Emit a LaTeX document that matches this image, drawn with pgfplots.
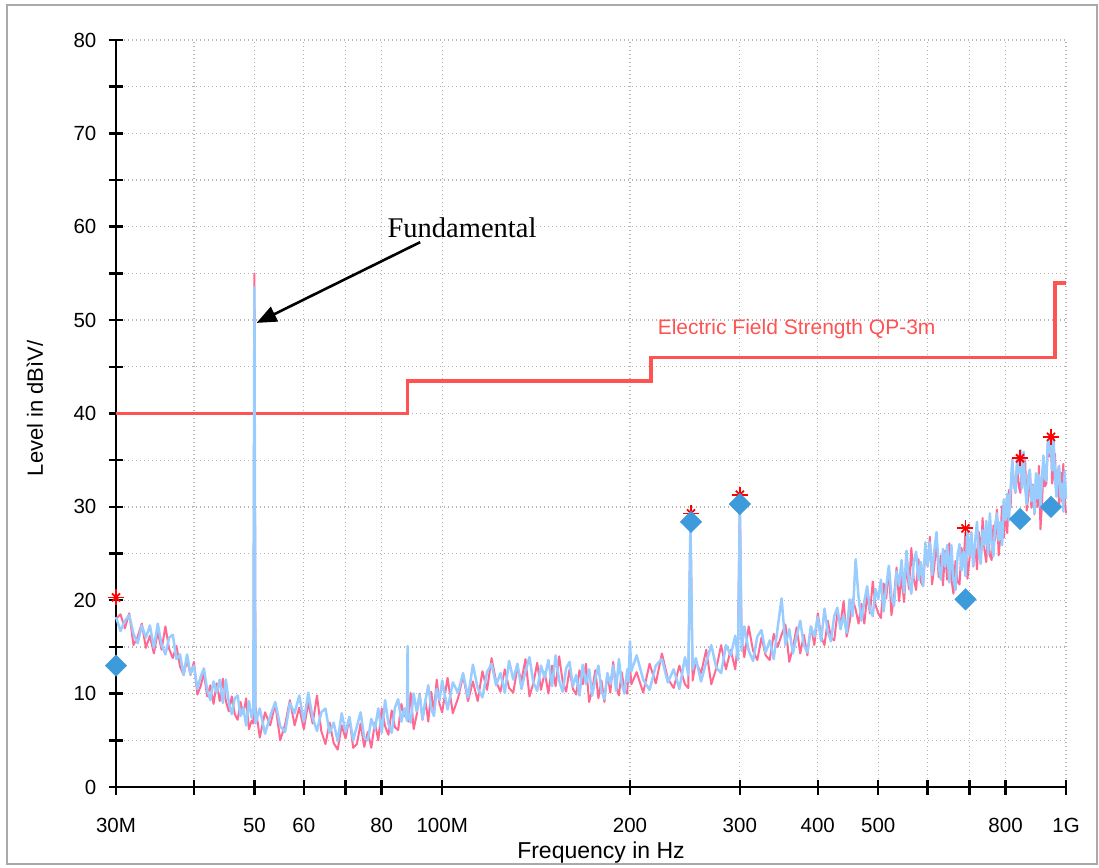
\documentclass[border=0pt]{standalone}
\usepackage{pgfplots}
\pgfplotsset{compat=1.18}
\usepackage{pgfplotstable}
\usepackage{fontspec}
\setmainfont{Liberation Sans}
\newfontfamily\seriffont{Liberation Serif}
\usetikzlibrary{arrows.meta}

\definecolor{limitred}{RGB}{255,82,82}
\definecolor{tracepink}{RGB}{255,105,145}
\definecolor{traceblue}{RGB}{153,204,255}
\definecolor{diamondblue}{RGB}{61,154,219}
\definecolor{gridgray}{RGB}{180,180,180}
\definecolor{framegray}{RGB}{170,170,170}

% scan: frequency in MHz, blue trace, pink trace (dB)
\pgfplotstableread{
f blue pink
30 18.2 18.0
30.5 16.7 18.5
31 17.8 17.0
31.5 18.4 18.6
32 16.4 15.2
32.5 15.4 16.1
33 17.3 17.5
33.5 16.0 14.9
34 17.3 16.2
34.5 14.9 14.3
35 17.5 16.6
35.5 15.2 14.7
36 14.2 17.2
36.5 16.0 14.8
37 16.3 13.8
37.5 13.7 15.1
38 14.2 12.9
38.5 12.0 12.0
39 14.2 13.6
39.5 12.1 12.0
40 13.0 13.4
40.5 10.5 9.9
41 11.8 10.8
41.5 12.7 12.2
42 10.4 9.7
42.5 9.3 10.9
43 11.3 8.9
43.5 10.1 11.1
44 11.5 9.2
44.5 9.0 11.6
45 11.5 9.2
45.5 9.0 8.1
46 7.8 9.7
46.5 9.5 7.8
47 9.8 7.2
47.5 7.6 9.1
48 8.5 7.8
48.5 6.6 9.5
49 9.2 6.2
49.5 7.4 7.1
49.8 8.4 6.8
50 53.5 55.0
50.2 6.8 8.6
51 8.4 5.3
52 5.7 8.0
53 7.6 6.6
54 9.1 8.9
55 6.5 5.0
56 5.9 6.7
57 9.0 9.3
58 7.9 6.6
59 9.8 8.5
60 7.0 6.2
61 10.1 9.0
62 7.4 6.8
63 6.0 9.8
64 8.0 6.0
65 8.4 4.6
66 5.8 6.9
67 6.9 4.7
68 4.9 4.0
69 7.9 6.6
70 5.9 5.2
71 7.5 7.4
72 5.0 4.2
73 6.5 4.6
74 8.0 6.8
75 5.3 4.3
76 5.0 5.9
77 7.3 4.2
78 6.2 6.9
79 8.4 5.0
80 5.8 8.4
81 9.3 6.5
82 6.8 5.6
83 5.8 8.2
84 8.5 6.4
85 9.4 6.1
86 7.0 8.9
87 8.4 7.6
87.8 7.1 8.6
88 15.1 9.3
88.2 8.0 7.0
89 6.9 10.1
90 10.0 6.2
91 8.1 7.7
92 9.9 10.0
93 7.3 7.2
94 9.3 9.2
95 10.9 7.0
96 8.4 10.2
97 7.6 8.1
98 10.5 11.5
99 9.3 8.9
100 11.4 8.0
102 8.3 11.7
104 11.2 7.9
106 10.1 9.5
108 12.2 11.9
110 9.6 9.2
112 13.1 11.3
114 10.6 9.2
116 9.6 12.4
118 12.3 10.4
120 13.2 13.8
122 10.9 11.3
124 12.2 10.2
126 10.1 12.6
128 13.5 10.6
130 11.5 10.1
132 13.2 12.8
134 10.5 11.4
136 12.4 13.7
138 13.9 9.7
140 11.2 11.1
142 10.3 13.3
144 13.0 10.4
146 11.7 12.3
148 13.6 10.0
150 10.8 13.0
152 14.1 10.8
154 11.4 14.0
156 10.2 11.3
158 12.7 10.2
160 13.4 12.6
162 10.8 10.5
164 12.0 9.9
166 9.8 12.5
168 13.1 11.0
170 11.0 13.2
172 12.6 9.1
174 9.8 10.4
176 11.6 12.5
178 13.0 9.5
180 10.3 11.4
182 9.4 9.1
184 12.2 12.2
186 11.0 10.1
188 13.0 13.4
190 10.3 10.8
192 13.7 9.8
194 11.1 12.3
196 10.0 10.4
198 12.6 10.0
199 11.3 12.7
200 15.6 13.0
201 12.4 11.0
205 14.1 12.3
210 11.5 10.1
215 10.4 13.2
220 13.0 11.1
225 13.7 14.3
230 11.2 11.6
235 12.6 10.6
240 10.5 13.0
245 13.9 11.0
248 12.0 10.6
250 28.3 29.0
252 12.6 11.4
255 13.8 13.4
260 11.3 12.2
265 13.4 14.7
270 15.2 11.0
275 12.8 12.7
280 12.2 15.2
285 15.2 12.6
290 14.1 14.7
295 16.2 12.6
298 13.6 15.8
300 30.2 31.0
302 14.6 15.9
305 17.2 13.9
310 14.6 17.2
315 13.5 14.6
320 16.1 13.6
325 16.8 16.0
330 14.4 14.1
335 15.7 13.6
340 13.7 16.4
345 17.1 15.0
350 20.2 16.3
355 15.2 17.4
360 16.9 13.4
365 14.3 14.9
370 16.2 17.1
375 17.8 14.3
380 15.2 16.3
385 14.4 14.1
390 17.2 17.2
395 16.1 15.2
400 18.2 18.6
405 15.6 16.1
410 19.1 15.2
415 16.6 17.8
420 15.6 16.0
425 18.3 15.7
430 19.2 18.6
435 16.9 17.4
440 18.4 19.9
445 16.5 16.1
450 20.1 17.7
455 18.3 20.1
460 24.4 19.0
465 20.3 17.5
470 17.8 19.6
475 19.9 17.5
480 21.5 20.6
485 19.0 18.6
490 18.3 22.0
495 21.2 19.5
500 20.1 18.6
505 22.2 18.1
510 18.8 21.8
515 21.5 20.2
520 23.7 23.4
525 20.4 18.4
530 19.4 20.4
535 23.1 23.5
540 21.6 19.9
545 24.3 22.6
550 20.8 19.8
555 25.3 23.9
560 22.0 21.2
565 20.7 25.6
570 24.1 22.3
575 25.2 21.1
580 22.2 24.4
585 24.1 22.0
590 21.5 21.5
595 26.2 25.2
600 23.7 23.6
605 26.2 26.8
610 22.7 21.7
615 25.3 23.6
620 27.3 26.5
625 23.6 22.5
630 22.2 24.8
635 25.5 21.6
640 23.6 25.3
645 25.9 22.2
650 21.9 26.1
655 25.9 22.3
660 22.2 20.7
665 21.1 24.2
670 24.7 22.0
675 26.0 21.7
680 23.2 25.6
685 25.2 24.1
690 22.6 27.3
695 27.3 22.3
700 24.8 24.3
705 27.2 27.3
710 23.7 23.6
715 26.3 26.2
720 28.4 23.3
725 25.0 27.3
730 23.9 24.5
735 27.5 28.8
740 25.9 25.4
745 28.5 24.1
750 24.9 27.3
755 29.3 24.8
760 26.0 24.3
765 24.7 28.0
770 28.1 26.4
775 29.3 29.7
780 26.4 24.8
785 28.4 26.9
790 25.9 30.1
795 30.8 26.7
800 28.6 29.7
805 31.4 27.2
810 28.5 31.8
815 32.0 29.9
820 35.0 35.1
825 32.3 32.4
830 31.6 31.5
835 35.3 34.8
840 33.6 32.2
845 36.1 31.5
850 32.0 34.6
855 35.9 32.4
860 32.0 35.0
865 30.3 29.6
870 33.3 31.2
875 34.0 33.9
880 30.6 29.9
885 32.3 32.4
890 29.3 29.2
895 33.6 32.9
900 30.9 30.0
905 33.4 34.4
910 30.0 27.6
915 33.0 30.2
920 35.5 33.8
925 33.0 32.2
930 32.8 32.5
935 37.1 36.8
940 35.8 35.4
945 37.6 37.9
950 33.9 32.5
955 37.5 33.6
960 33.2 35.7
965 31.1 31.3
970 33.9 33.4
975 34.4 30.0
980 31.0 33.7
985 32.5 30.6
990 29.5 34.6
995 33.8 30.9
1000 30.9 29.3
}\scan

\begin{document}
\begin{tikzpicture}[x=1pt,y=1pt]
    \path[use as bounding box] (-116,-80) rectangle (983,787);
    \draw[framegray, line width=2pt] (-109,-77) rectangle (981,782);
    \begin{axis}[
        at={(0,0)}, anchor=south west,
        scale only axis,
        width=950pt, height=747pt,
        xmode=log,
        xmin=30, xmax=1000,
        ymin=0, ymax=80,
        xtick={30,40,50,60,70,80,100,200,300,400,500,600,700,800,1000},
        xticklabels={30M,,50,60,,80,100M,200,300,400,500,,,800,1G},
        xminorticks=false,
        ytick={0,10,...,80},
        yticklabels={0,10,20,30,40,50,60,70,80},
        minor ytick={5,15,...,75},
        axis lines=left,
        axis line style={-, black, line width=2.5pt},
        tick style={black, line width=2.5pt},
        major tick length=15pt,
        minor tick length=15pt,
        tick align=center,
        xmajorgrids, ymajorgrids, yminorgrids,
        major grid style={gridgray, line width=1.3pt, dash pattern=on 1.3pt off 2.7pt},
        minor grid style={gridgray, line width=1.3pt, dash pattern=on 1.3pt off 2.7pt},
        tick label style={font=\fontsize{20.5}{24}\selectfont},
        yticklabel style={anchor=east, inner sep=0pt, xshift=-12pt},
        xticklabel style={anchor=north, inner sep=0pt, yshift=-23pt},
        xlabel={Frequency in Hz},
        ylabel={Level in dBìV/},
        xlabel style={font=\fontsize{23}{27}\selectfont, at={(axis description cs:0.5105,-0.0884)}, anchor=center},
        ylabel style={font=\fontsize{22}{26}\selectfont, at={(axis description cs:-0.0853,0.507)}, anchor=center},
        clip=false,
    ]
        % limit line
        \addplot[limitred, line width=3.5pt, line join=miter] coordinates {
            (30,40) (88,40) (88,43.5) (216,43.5) (216,46) (960,46) (960,54) (1000,54)
        };
        \addplot[tracepink, line width=2pt, line join=round] table[x=f, y=pink] {\scan};
        \addplot[traceblue, line width=2.5pt, line join=round] table[x=f, y=blue] {\scan};

        % peak markers
        \addplot[only marks, red, mark=+, mark size=8pt, mark options={line width=1.8pt}] coordinates {
            (30,20.3) (250.5,29.3) (300,31.3) (690,27.7) (844,35.2) (946,37.5)
        };
        \addplot[only marks, red, mark=x, mark size=5.7pt, mark options={line width=1.8pt}] coordinates {
            (30,20.3) (250.5,29.3) (300,31.3) (690,27.7) (844,35.2) (946,37.5)
        };
        % quasi-peak results
        \addplot[only marks, mark=square*, mark size=7.6pt,
            mark options={rotate=45, fill=diamondblue, draw=diamondblue}] coordinates {
            (30,13.0) (250.5,28.4) (300,30.3) (690,20.1) (844,28.7) (946,30.0)
        };

        \node[text=limitred, font=\fontsize{21}{25}\selectfont, anchor=center]
            at (axis cs:370,49.0) {Electric Field Strength QP-3m};
        \node[font=\seriffont\fontsize{28.5}{32}\selectfont, anchor=base]
            at (axis cs:107.6,58.8) {Fundamental};
        \draw[black, line width=2.6pt, -{Triangle[length=20pt,width=16pt]}]
            (axis cs:92.2,58.35) -- (axis cs:50.4,49.7);
    \end{axis}
\end{tikzpicture}
\end{document}
